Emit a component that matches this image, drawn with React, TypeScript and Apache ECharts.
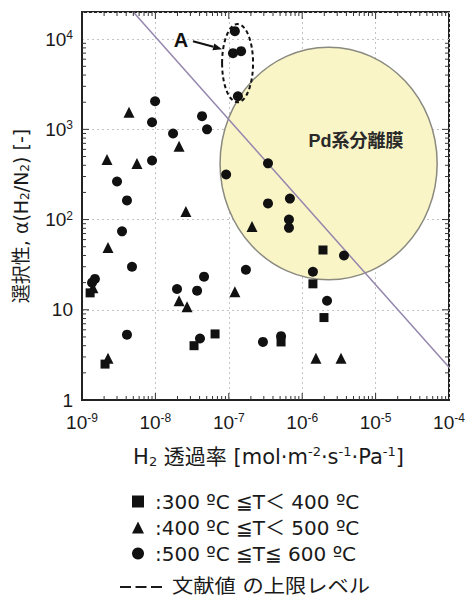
import React, { useEffect, useRef } from "react";
import * as echarts from "echarts";

const FONT = "'Liberation Sans', 'Noto Sans CJK JP', sans-serif";
const WIDE = "'DejaVu Sans', 'Noto Sans CJK JP', sans-serif";
const TEXT = "#1a1a1a";

// Legend / series names
const seriesNames = [":300 ºC ≦T＜ 400 ºC", ":400 ºC ≦T＜ 500 ºC", ":500 ºC ≦T≦ 600 ºC"];
const limitLabel = "文献値 の上限レベル";
const pdLabel = "Pd系分離膜";
const groupLabel = "A";
const xName = "H{sub|2} 透過率 [mol·m{sup|-2}·s{sup|-1}·Pa{sup|-1}]";
const yName = "選択性, α(H{sub|2}/N{sub|2}) [-]";

// Axis decades and minor multipliers
const xDecades = [1e-9, 1e-8, 1e-7, 1e-6, 1e-5, 1e-4];
const yDecades = [1, 10, 100, 1000, 10000];
const minorMultipliers = [2, 3, 4, 5, 6, 7, 8, 9];

// Data: [H2 permeance, selectivity]
const squares300: number[][] = [
  [1.29e-9, 15.4], [2.06e-9, 2.5], [3.36e-8, 4.0], [6.5e-8, 5.4],
  [5.15e-7, 4.4], [1.4e-6, 19.4], [1.92e-6, 46], [1.98e-6, 8.2],
];
const triangles400: number[][] = [
  [1.41e-9, 17.6], [2.26e-9, 2.9], [2.26e-9, 49], [2.19e-9, 464],
  [4.37e-9, 1545], [5.6e-9, 419], [2.1e-8, 648], [2.6e-8, 123],
  [2.1e-8, 12.6], [2.7e-8, 10.8], [1.21e-7, 15.8], [2.07e-7, 84],
  [1.54e-6, 2.9], [3.38e-6, 2.9],
];
const circles500: number[][] = [
  [1.21e-7, 12270], [1.14e-7, 7000], [1.47e-7, 7360], [1.33e-7, 2330],
  [9.9e-9, 2050], [9.0e-9, 1200], [1.74e-8, 900], [4.32e-8, 1400],
  [5.05e-8, 1000], [9.0e-9, 452], [3.0e-9, 264], [4.1e-9, 163],
  [3.51e-9, 74], [4.8e-9, 30], [1.5e-9, 22], [1.37e-9, 20],
  [1.97e-8, 17], [3.7e-8, 16.3], [4.6e-8, 23.3], [1.71e-7, 27.8],
  [4.1e-9, 5.3], [4.05e-8, 4.8], [9.2e-8, 316], [3.42e-7, 420],
  [3.42e-7, 151], [6.8e-7, 171], [6.6e-7, 100], [6.6e-7, 81],
  [3.71e-6, 40], [1.4e-6, 26.4], [2.18e-6, 12.6], [2.92e-7, 4.4],
  [5.15e-7, 5.1],
];
const upperLimitLine: number[][] = [[5e-9, 20000], [1e-4, 2.3]];

// Annotation regions in data space: [xLeft, yTop, xRight, yBottom]
const pdRegion = [7.6e-8, 8150, 6.9e-5, 21.5];
const pdLabelAt = [5.4e-6, 736];
const groupARegion = [8.1e-8, 14700, 2.14e-7, 2000];
const groupALabelAt = [2.23e-8, 9750];
const groupAArrow = [3.25e-8, 9500, 8.1e-8, 7740];

function buildTicks(decades: number[], last: number) {
  const out: number[][] = [];
  decades.forEach((d, i) => {
    if (i > 0 && i < decades.length - 1) out.push([d, 1]);
    if (d < last) minorMultipliers.forEach((m) => out.push([d * m, 0]));
  });
  return out;
}

const xTicks = buildTicks(xDecades, 1e-4);
const yTicks = buildTicks(yDecades, 10000).concat([[20000, 0]]);

function powLabel(v: number) {
  const e = Math.round(Math.log10(v));
  if (e === 0) return "{b|1}";
  if (e === 1) return "{b|10}";
  return `{b|10}{s|${e}}`;
}

const labelRich = {
  b: { fontSize: 19, fontFamily: FONT, color: TEXT, lineHeight: 20 },
  s: { fontSize: 12, fontFamily: FONT, color: TEXT, lineHeight: 12, verticalAlign: "top" },
};

export default function App() {
  const ref = useRef<HTMLDivElement>(null);
  useEffect(() => {
    const chart = echarts.init(ref.current!, null, { renderer: "svg" });
    const option: any = {
      animation: false,
      backgroundColor: "#fff",
      grid: { left: 82, top: 12, width: 367, height: 388, show: true, borderColor: "#222", borderWidth: 2, backgroundColor: "transparent" },
      xAxis: {
        type: "log", logBase: 10, min: 1e-9, max: 1e-4,
        axisLine: { show: true, onZero: false, lineStyle: { color: "#222", width: 2 } },
        axisTick: { show: false },
        splitLine: { show: true, lineStyle: { color: "#c4c4c4", type: [2, 3], width: 1 } },
        axisLabel: { formatter: powLabel, margin: 12, rich: labelRich },
        name: xName,
        nameLocation: "middle", nameGap: 45,
        nameTextStyle: {
          fontSize: 21, fontFamily: WIDE, color: TEXT, lineHeight: 23, padding: [0, 0, 0, 6],
          rich: {
            sub: { fontSize: 13, fontFamily: WIDE, color: TEXT, verticalAlign: "bottom", lineHeight: 13 },
            sup: { fontSize: 13, fontFamily: WIDE, color: TEXT, verticalAlign: "top", lineHeight: 13 },
          },
        },
      },
      yAxis: {
        type: "log", logBase: 10, min: 1, max: 20000,
        axisLine: { show: true, onZero: false, lineStyle: { color: "#222", width: 2 } },
        axisTick: { show: false },
        splitLine: { show: true, lineStyle: { color: "#c4c4c4", type: [2, 3], width: 1 } },
        axisLabel: { formatter: powLabel, margin: 9, rich: labelRich, showMaxLabel: false },
      },
      legend: {
        orient: "vertical", left: 132, top: 491, padding: 0,
        itemWidth: 12, itemHeight: 12, itemGap: 5,
        textStyle: { fontSize: 20, fontFamily: WIDE, color: TEXT, lineHeight: 21, padding: [0, 0, 0, 6] },
        data: [
          { name: seriesNames[0], icon: "rect" },
          { name: seriesNames[1], icon: "triangle" },
          { name: seriesNames[2], icon: "circle" },
        ],
        selectedMode: false,
      },
      graphic: [
        {
          type: "text", x: 21, y: 216, rotation: Math.PI / 2,
          style: {
            text: yName, fontSize: 19, fontFamily: WIDE, fill: TEXT, align: "center", verticalAlign: "middle",
            rich: { sub: { fontSize: 12, fontFamily: WIDE, fill: TEXT, verticalAlign: "bottom", lineHeight: 12 } },
          },
        },
        { type: "line", shape: { x1: 120, y1: 587, x2: 164, y2: 587 }, style: { stroke: TEXT, lineWidth: 2, lineDash: [11, 4.5] } },
        { type: "text", x: 172, y: 586, scaleX: 1.12, style: { text: limitLabel, fontSize: 19, lineHeight: 19, fontFamily: WIDE, fill: TEXT, verticalAlign: "middle" } },
      ],
      series: [
        {
          type: "custom", name: "pd", silent: true, z: 1,
          encode: { x: [0, 2], y: [1, 3] },
          data: [[...pdRegion, ...pdLabelAt]],
          renderItem: (_p: any, api: any) => {
            const a = api.coord([api.value(0), api.value(1)]);
            const b = api.coord([api.value(2), api.value(3)]);
            const t = api.coord([api.value(4), api.value(5)]);
            return {
              type: "group",
              children: [
                { type: "ellipse", shape: { cx: (a[0] + b[0]) / 2, cy: (a[1] + b[1]) / 2, rx: Math.abs(b[0] - a[0]) / 2, ry: Math.abs(b[1] - a[1]) / 2 }, style: { fill: "#f9f5c6", stroke: "#8a8a80", lineWidth: 1.5 } },
                { type: "text", x: t[0], y: t[1], style: { text: pdLabel, fontSize: 18, fontWeight: "bold", fontFamily: FONT, fill: "#2a2a2a", align: "center", verticalAlign: "middle" } },
              ],
            };
          },
        },
        {
          type: "line", name: limitLabel, data: upperLimitLine, showSymbol: false, symbol: "none",
          lineStyle: { color: "#9486ad", width: 1.5 }, silent: true, z: 2,
        },
        {
          type: "custom", name: "groupA", silent: true, z: 4,
          encode: { x: [0, 2], y: [1, 3] },
          data: [[...groupARegion, ...groupALabelAt, ...groupAArrow]],
          renderItem: (_p: any, api: any) => {
            const a = api.coord([api.value(0), api.value(1)]);
            const b = api.coord([api.value(2), api.value(3)]);
            const t = api.coord([api.value(4), api.value(5)]);
            const s = api.coord([api.value(6), api.value(7)]);
            const e = api.coord([api.value(8), api.value(9)]);
            const dx = e[0] - s[0], dy = e[1] - s[1];
            const L = Math.hypot(dx, dy) || 1;
            const ux = dx / L, uy = dy / L;
            const hl = 9, hw = 3.5;
            const base = [e[0] - ux * hl, e[1] - uy * hl];
            return {
              type: "group",
              children: [
                { type: "ellipse", shape: { cx: (a[0] + b[0]) / 2, cy: (a[1] + b[1]) / 2, rx: Math.abs(b[0] - a[0]) / 2, ry: Math.abs(b[1] - a[1]) / 2 }, style: { fill: "none", stroke: "#111", lineWidth: 2, lineDash: [4, 3] } },
                { type: "text", x: t[0], y: t[1], style: { text: groupLabel, fontSize: 20, fontWeight: "bold", fontFamily: FONT, fill: "#111", align: "center", verticalAlign: "middle" } },
                { type: "line", shape: { x1: s[0], y1: s[1], x2: base[0], y2: base[1] }, style: { stroke: "#111", lineWidth: 2 } },
                { type: "polygon", shape: { points: [e, [base[0] - uy * hw, base[1] + ux * hw], [base[0] + uy * hw, base[1] - ux * hw]] }, style: { fill: "#111" } },
              ],
            };
          },
        },
        {
          type: "custom", name: "xTicks", silent: true, z: 5,
          encode: { x: 0, y: 1 },
          data: xTicks.map((t) => [t[0], 1, t[1]]),
          renderItem: (params: any, api: any) => {
            const cs = params.coordSys;
            const p = api.coord([api.value(0), 1]);
            const len = api.value(2) ? 7 : 4;
            const bottom = cs.y + cs.height;
            return {
              type: "group",
              children: [
                { type: "line", shape: { x1: p[0], y1: bottom, x2: p[0], y2: bottom - len }, style: { stroke: "#333", lineWidth: 1 } },
                { type: "line", shape: { x1: p[0], y1: cs.y, x2: p[0], y2: cs.y + len }, style: { stroke: "#333", lineWidth: 1 } },
              ],
            };
          },
        },
        {
          type: "custom", name: "yTicks", silent: true, z: 5,
          encode: { x: 0, y: 1 },
          data: yTicks.map((t) => [1e-9, t[0], t[1]]),
          renderItem: (params: any, api: any) => {
            const cs = params.coordSys;
            const p = api.coord([1e-9, api.value(1)]);
            const len = api.value(2) ? 7 : 4;
            const right = cs.x + cs.width;
            return {
              type: "group",
              children: [
                { type: "line", shape: { x1: cs.x, y1: p[1], x2: cs.x + len, y2: p[1] }, style: { stroke: "#333", lineWidth: 1 } },
                { type: "line", shape: { x1: right, y1: p[1], x2: right - len, y2: p[1] }, style: { stroke: "#333", lineWidth: 1 } },
              ],
            };
          },
        },
        { type: "scatter", name: seriesNames[0], data: squares300, symbol: "rect", symbolSize: 9, itemStyle: { color: "#111", opacity: 1 }, z: 6 },
        { type: "scatter", name: seriesNames[1], data: triangles400, symbol: "triangle", symbolSize: 11, itemStyle: { color: "#111", opacity: 1 }, z: 6 },
        { type: "scatter", name: seriesNames[2], data: circles500, symbol: "circle", symbolSize: 10, itemStyle: { color: "#111", opacity: 1 }, z: 6 },
      ],
    };
    chart.setOption(option);
    return () => chart.dispose();
  }, []);
  return <div ref={ref} style={{ position: "absolute", left: 0, top: 0, width: 473, height: 599, background: "#fff" }} />;
}
